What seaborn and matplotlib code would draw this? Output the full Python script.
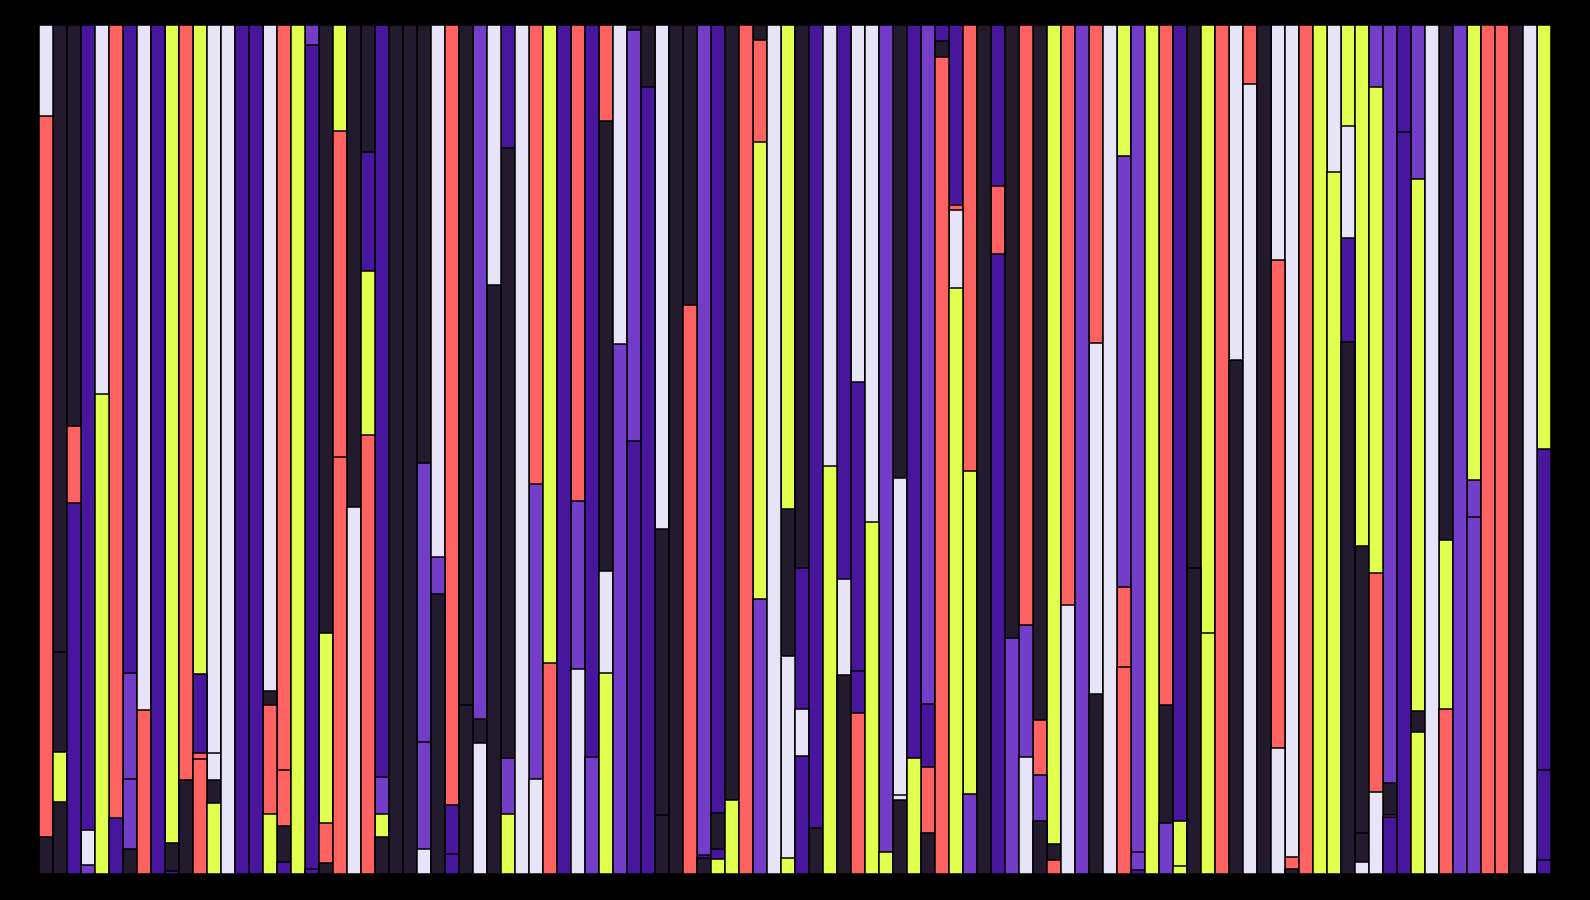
import matplotlib
matplotlib.use("Agg")
import matplotlib.pyplot as plt
import numpy as np
import pandas as pd
import seaborn as sns

# colour codes used in the layer strings ("." = empty slot)
palette_codes = {
    "d": "#231a2e",
    "i": "#48159d",
    "p": "#733dc8",
    "l": "#e8e4f8",
    "c": "#ff6361",
    "y": "#e0ff4f",
    ".": "#000000",
}

# stack layers, bottom to top, one entry per column (108 columns)
layer1_colors = ("ddipyidcii" "dcyliiyiyi" "dclcdddldi" "dldyllcilp" "ypiiddcdyy"
                 "cplyidydcy" "ydydcypdip" "ldclpdlciy" "pydycdldld" "cyydlliiyl" "cppccdli")
layer1 = [4.3, 8.5, 43.7, 1.1, 56.6, 6.6, 3.0, 19.3, 100, 0.3,
          11.1, 13.5, 8.4, 100, 100, 100, 7.1, 1.4, 100, 0.6,
          1.3, 49.1, 43.3, 51.7, 4.3, 100, 100, 3.0, 33.0, 2.4,
          19.9, 15.4, 69.4, 7.1, 100, 11.2, 24.9, 100, 24.1, 13.8,
          23.7, 62.5, 51.0, 92.7, 7.0, 100, 67.1, 1.9, 1.8, 8.7,
          100, 32.4, 100, 1.9, 13.9, 5.4, 48.1, 23.4, 19.0, 41.5,
          2.6, 8.7, 13.7, 4.8, 96.3, 69.1, 9.4, 100, 73.1, 27.8,
          13.8, 6.3, 1.7, 31.7, 100, 21.2, 100, 24.4, 0.5, 100,
          6.0, 1.0, 36.1, 28.4, 100, 60.6, 93.1, 100, 14.9, 0.6,
          100, 100, 82.7, 62.7, 1.4, 9.7, 6.7, 87.4, 16.7, 100,
          19.5, 100, 42.1, 100, 100, 100, 100, 1.7]

layer2_colors = ("cycllcpl.d" "ccd...cd.i" "ccdyy..ppi" "ddlp.py.pi" "llpdd.diid"
                 ".y.llillil" "plicdly.cd" "ppdc.l.cp." "dydy.lc.cc" "..lidccid." "y.p....i")
layer2 = [85.0, 5.9, 9.1, 4.1, 43.4, 93.4, 8.2, 80.7, 0, 3.4,
          88.9, 0.8, 2.7, 0, 0, 0, 12.8, 4.3, 0, 97.1,
          4.7, 38.4, 56.7, 19.4, 2.8, 0, 0, 12.5, 4.3, 5.7,
          80.1, 2.9, 30.6, 6.6, 0, 34.8, 75.1, 0, 19.8, 86.2,
          12.0, 37.5, 48.5, 7.3, 33.6, 0, 32.9, 0.3, 1.2, 91.3,
          0, 53.9, 0, 23.8, 5.5, 94.6, 51.9, 11.4, 4.9, 58.5,
          97.4, 0.6, 86.3, 7.8, 1.9, 9.1, 38.1, 0, 8.0, 72.2,
          15.5, 5.4, 1.8, 68.3, 0, 41.4, 0, 9.4, 2.1, 0,
          13.9, 5.3, 63.9, 71.6, 0, 39.4, 6.9, 0, 57.5, 1.4,
          0, 0, 17.3, 12.2, 3.4, 25.8, 0.3, 12.6, 2.5, 0,
          19.8, 0, 4.3, 0, 0, 0, 0, 10.5]

layer3_colors = ("lddi..p..y" ".il...dc.p" "yy.ip..plc" ".p.d.c..c." "d.d.l..pd."
                 ".c.di..ii." ".l.iicc.i." "ccy..c.pp." "ci......ll" "...ldyd.y." "d.y....i")
layer3 = [10.7, 11.8, 47.2, 94.8, 0, 0, 12.5, 0, 0, 96.3,
          0, 9.3, 3.2, 0, 0, 0, 1.7, 6.6, 0, 2.3,
          22.4, 12.5, 0, 14.0, 4.3, 0, 0, 32.9, 62.7, 91.9,
          0, 81.7, 0, 71.9, 0, 54.0, 0, 0, 56.1, 0,
          53.0, 0, 0.5, 0, 59.4, 0, 0, 97.8, 4.2, 0,
          0, 12.0, 0, 17.3, 16.7, 0, 0, 65.2, 34.1, 0,
          0, 37.4, 0, 7.4, 1.8, 0.6, 52.5, 0, 18.9, 0,
          70.7, 6.4, 96.5, 0, 0, 37.4, 0, 50.8, 97.4, 0,
          80.1, 93.7, 0, 0, 0, 0, 0, 0, 27.6, 98.0,
          0, 0, 0, 13.3, 33.9, 57.2, 3.7, 0, 62.7, 0,
          60.7, 0, 53.6, 0, 0, 0, 0, 37.9]

layer4_colors = (".d....i..." ".yl...lc.." "d..di..d.." "...i......" "c.......i."
                 ".d.yd...l." ".d.p.i...." ".d.....y.." ".........." "...yypp.p." ".......y")
layer4 = [0, 73.8, 0, 0, 0, 0, 76.3, 0, 0, 0,
          0, 76.4, 85.7, 0, 0, 0, 78.4, 87.7, 0, 0,
          71.6, 0, 0, 14.9, 88.6, 0, 0, 51.6, 0, 0,
          0, 0, 0, 14.4, 0, 0, 0, 0, 0, 0,
          11.3, 0, 0, 0, 0, 0, 0, 0, 92.8, 0,
          0, 1.7, 0, 57.0, 63.9, 0, 0, 0, 42.0, 0,
          0, 53.3, 0, 80.0, 0, 21.2, 0, 0, 0, 0,
          0, 81.9, 0, 0, 0, 0, 0, 15.4, 0, 0,
          0, 0, 0, 0, 0, 0, 0, 0, 0, 0,
          0, 0, 0, 11.8, 61.3, 7.3, 89.3, 0, 18.1, 0,
          0, 0, 0, 0, 0, 0, 0, 49.9]

columns = [f"{i:03d}" for i in range(1, len(layer1) + 1)]
layers = np.array([layer1, layer2, layer3, layer4], dtype=float)
tops = layers.cumsum(axis=0) / layers.sum(axis=0) * 100
layer_colors = [layer1_colors, layer2_colors, layer3_colors, layer4_colors]

sns.set_theme(style="dark", rc={"axes.facecolor": "black", "figure.facecolor": "black"})

fig = plt.figure(figsize=(15.9, 9), dpi=100)
ax = fig.add_axes([0.0243, 0.0289, 0.9509, 0.9429])

# draw cumulative tops from the highest layer down so lower layers sit on top
for k in range(len(layers) - 1, -1, -1):
    df = pd.DataFrame({"column": columns, "top": tops[k]})
    pal = {c: palette_codes[code] for c, code in zip(columns, layer_colors[k])}
    sns.barplot(data=df, x="column", y="top", hue="column", palette=pal,
                order=columns, hue_order=columns, legend=False, width=1,
                saturation=1, edgecolor="black", linewidth=1.1,
                errorbar=None, ax=ax)

ax.set_xlim(-0.5, len(columns) - 0.5)
ax.set_ylim(0, 100)
ax.set_axis_off()

fig.savefig("out.png", dpi=100, facecolor="black")
